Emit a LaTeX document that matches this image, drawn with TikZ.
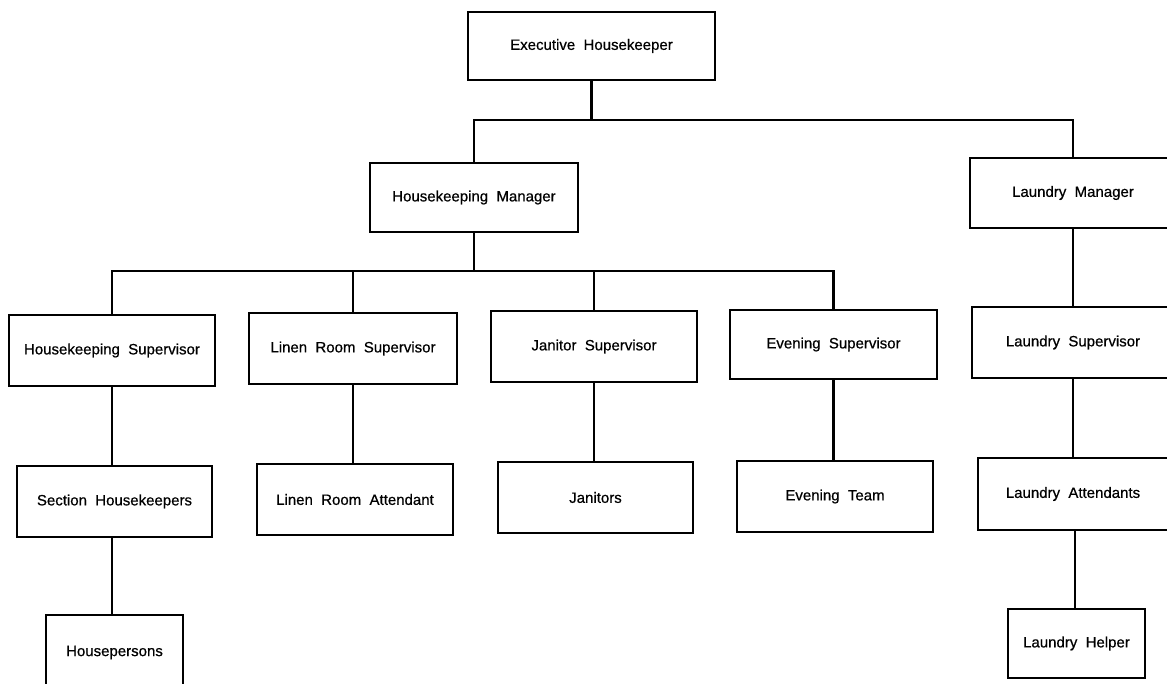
\documentclass[tikz,border=0pt]{standalone}
\usepackage{fontspec}
\setmainfont[WordSpace=2,FakeBold=0.6]{Liberation Sans}
\usetikzlibrary{positioning,calc}

\begin{document}
\begin{tikzpicture}[x=1pt,y=-1pt,
    post/.style={draw, line width=2pt, inner sep=0pt,
        font=\fontsize{15}{18}\selectfont},
    link/.style={line width=2.8pt}]
    \useasboundingbox (0,0) rectangle (1167,684);

    % Top level
    \node [post, minimum width=247, minimum height=68] (exec) at (591.5,46) {Executive Housekeeper};

    % Managers
    \node [post, minimum width=208, minimum height=69] (hkm) at (474,197.5) {Housekeeping Manager};
    \node [post, minimum width=206, minimum height=70] (lm) at (1073,193) {Laundry Manager};

    % Supervisors
    \node [post, minimum width=206, minimum height=71] (hks) at (112,350.5) {Housekeeping Supervisor};
    \node [post, minimum width=208, minimum height=71] (lrs) at (353,348.5) {Linen Room Supervisor};
    \node [post, minimum width=206, minimum height=71] (js) at (594,346.5) {Janitor Supervisor};
    \node [post, minimum width=207, minimum height=69] (es) at (833.5,344.5) {Evening Supervisor};
    \node [post, minimum width=202, minimum height=71] (ls) at (1073,342.5) {Laundry Supervisor};

    % Staff
    \node [post, minimum width=195, minimum height=71] (sh) at (114.5,501.5) {Section Housekeepers};
    \node [post, minimum width=196, minimum height=71] (lra) at (355,499.5) {Linen Room Attendant};
    \node [post, minimum width=195, minimum height=71] (jan) at (595.5,497.5) {Janitors};
    \node [post, minimum width=196, minimum height=71] (et) at (835,496.5) {Evening Team};
    \node [post, minimum width=190, minimum height=72] (la) at (1073,494) {Laundry Attendants};
    \node [post, minimum width=137, minimum height=75] (hp) at (114.5,652.5) {Housepersons};
    \node [post, minimum width=137, minimum height=69] (lh) at (1076.5,643.5) {Laundry Helper};

    % Bus lines
    \coordinate (bus1) at (0,120);
    \coordinate (bus2) at (0,271);

    \draw [link] (exec.south) -- (exec.south |- bus1);
    \draw [link] (hkm.north) |- (lm.north |- bus1) -- (lm.north);

    \draw [link] (hkm.south) -- (hkm.south |- bus2);
    \draw [link] (hks.north) |- (es.north |- bus2) -- (es.north);
    \draw [link] (lrs.north) -- (lrs.north |- bus2);
    \draw [link] (js.north) -- (js.north |- bus2);

    % Downward chains
    \draw [link] (hks.south) -- (hks.south |- sh.north);
    \draw [link] (hks.south |- sh.south) -- (hks.south |- hp.north);
    \draw [link] (lrs.south) -- (lrs.south |- lra.north);
    \draw [link] (js.south) -- (js.south |- jan.north);
    \draw [link] (es.south) -- (es.south |- et.north);
    \draw [link] (lm.south) -- (ls.north);
    \draw [link] (ls.south) -- (la.north);
    \draw [link] ([xshift=2pt]la.south) -- ([xshift=2pt]la.south |- lh.north);
\end{tikzpicture}
\end{document}
